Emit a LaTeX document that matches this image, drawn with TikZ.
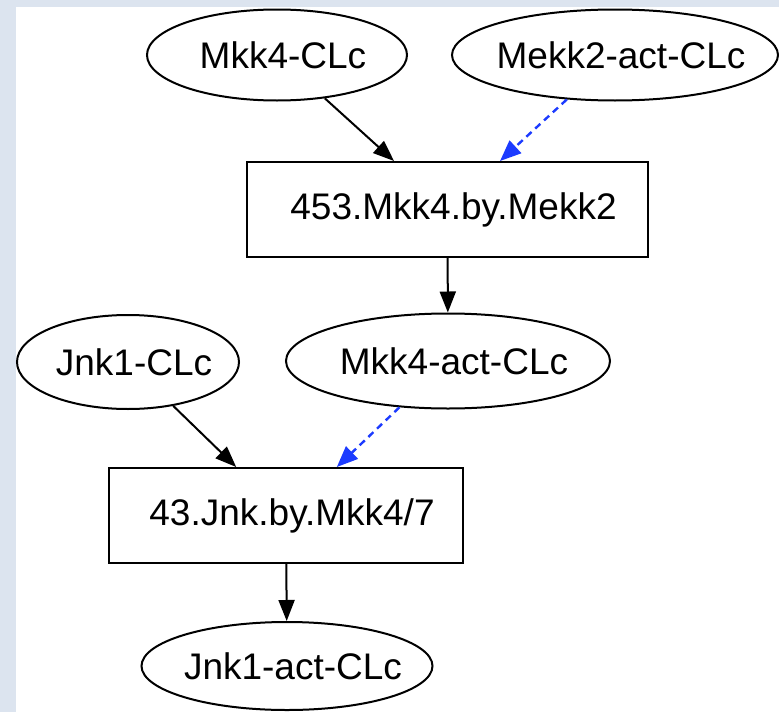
\documentclass[tikz,border=0pt]{standalone}
\usepackage{fontspec}
\setmainfont{Liberation Sans}
\usetikzlibrary{shapes.geometric,arrows.meta}
\definecolor{paper}{HTML}{DCE4EF}
\definecolor{catblue}{HTML}{1C3BFF}
\tikzset{
  x=1pt, y=-1pt,
  lbl/.style={font=\fontsize{37}{44}\selectfont, text=black,
              execute at begin node={\hspace*{12pt}}},
  species/.style={lbl, draw=black, line width=2pt, ellipse,
                  inner xsep=-60pt, inner ysep=-20pt},
  reaction/.style={lbl, draw=black, line width=2pt, rectangle, inner sep=0pt},
  flow/.style={draw=black, line width=2pt, -{Triangle[length=21pt,width=16pt]}},
  catal/.style={draw=catblue, line width=2.4pt, dash pattern=on 7pt off 5pt,
                -{Triangle[length=21pt,width=17pt]}}
}
\begin{document}
\begin{tikzpicture}
  % page: textured margin strip and white drawing area
  \fill[paper] (0,0) rectangle (779,712);
  \fill[white] (16,7) rectangle (779,712);
  \useasboundingbox (0,0) rectangle (779,712);

  % species
  \node[species, minimum width=260pt, minimum height=91pt] (mkk4) at (277,55) {Mkk4-CLc};
  \node[species, minimum width=326pt, minimum height=91pt] (mekk2) at (615,55) {Mekk2-act-CLc};
  \node[species, minimum width=222pt, minimum height=94pt] (jnk1) at (128,362) {Jnk1-CLc};
  \node[species, minimum width=324pt, minimum height=95pt] (mkk4act) at (448,361) {Mkk4-act-CLc};
  \node[species, minimum width=291pt, minimum height=88pt] (jnk1act) at (287,666) {Jnk1-act-CLc};

  % reactions
  \node[reaction, minimum width=401pt, minimum height=95pt] (r453) at (447.5,209.5) {453.Mkk4.by.Mekk2};
  \node[reaction, minimum width=354pt, minimum height=95pt] (r43) at (286,515.5) {43.Jnk.by.Mkk4/7};

  % substrate and product flow
  \draw[flow] (mkk4) -- (r453);
  \draw[flow] (r453) -- (mkk4act);
  \draw[flow] (jnk1) -- (r43);
  \draw[flow] (r43) -- (jnk1act);

  % catalysis
  \draw[catal] (mekk2) -- (r453);
  \draw[catal] (mkk4act) -- (r43);
\end{tikzpicture}
\end{document}
